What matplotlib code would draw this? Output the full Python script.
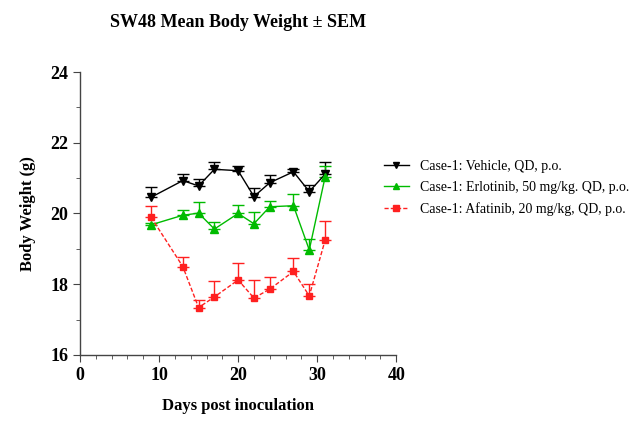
import matplotlib
matplotlib.use("Agg")
import matplotlib.pyplot as plt
from matplotlib.ticker import MultipleLocator
from matplotlib.lines import Line2D

plt.rcParams['font.family'] = ['Liberation Serif', 'DejaVu Serif']

days = [9, 13, 15, 17, 20, 22, 24, 27, 29, 31]
vehicle = [20.46, 20.93, 20.78, 21.25, 21.21, 20.48, 20.87, 21.18, 20.62, 21.11]
vehicle_sem = [0.30, 0.18, 0.19, 0.21, 0.13, 0.23, 0.21, 0.07, 0.19, 0.35]
erlotinib = [19.68, 19.95, 20.01, 19.56, 20.00, 19.71, 20.19, 20.22, 18.97, 21.03]
erlotinib_sem = [0.05, 0.14, 0.32, 0.21, 0.23, 0.32, 0.17, 0.33, 0.32, 0.32]
afatinib = [19.89, 18.50, 17.34, 17.64, 18.12, 17.61, 17.86, 18.36, 17.67, 19.24]
afatinib_sem = [0.32, 0.26, 0.22, 0.46, 0.49, 0.51, 0.35, 0.37, 0.33, 0.56]

labels = ["Case-1: Vehicle, QD, p.o.",
          "Case-1: Erlotinib, 50 mg/kg. QD, p.o.",
          "Case-1: Afatinib, 20 mg/kg, QD, p.o."]

fig = plt.figure(figsize=(6.35, 4.42), dpi=100)
ax = fig.add_axes([0.126, 0.197, 0.498, 0.640])

styles = [('black', 'v', '-', 6), ('#00bb00', '^', '-', 6), ('#ff2020', 's', (0, (3, 1.5)), 5)]
series = [(vehicle, vehicle_sem), (erlotinib, erlotinib_sem), (afatinib, afatinib_sem)]

handles = []
for (y, sem), (color, marker, ls, ms), label in zip(series, styles, labels):
    ax.errorbar(days, y, yerr=[[0]*len(sem), sem], color=color, marker=marker,
                markersize=ms, linestyle=ls, linewidth=1.0, capsize=4,
                elinewidth=1.0, capthick=1.0)
    handles.append(Line2D([], [], color=color, marker=marker, markersize=5,
                          linestyle=ls, linewidth=1.0, label=label))

ax.set_xlim(0, 40)
ax.set_ylim(16, 24)
ax.xaxis.set_major_locator(MultipleLocator(10))
ax.xaxis.set_minor_locator(MultipleLocator(2))
ax.yaxis.set_major_locator(MultipleLocator(2))
ax.yaxis.set_minor_locator(MultipleLocator(1))
for s in ['top', 'right']:
    ax.spines[s].set_visible(False)
for s in ['left', 'bottom']:
    ax.spines[s].set_color('#444444')
    ax.spines[s].set_linewidth(1.0)
ax.tick_params(which='major', length=5, color='#444444', labelsize=13)
ax.tick_params(which='minor', length=3, color='#444444')
for lab in ax.get_xticklabels() + ax.get_yticklabels():
    lab.set_fontweight('bold')

ax.set_xlabel("Days post inoculation", fontsize=12, fontweight='bold', labelpad=10)
ax.set_ylabel("Body Weight (g)", fontsize=12, fontweight='bold', labelpad=10)
fig.text(0.375, 0.95, "SW48 Mean Body Weight \u00b1 SEM", ha='center', va='center',
         fontsize=13, fontweight='bold')

fig.legend(handles=handles, loc='center left', bbox_to_anchor=(0.585, 0.575),
           frameon=False, fontsize=10, handlelength=1.8, handletextpad=0.8,
           labelspacing=0.6)

fig.savefig("out.png", dpi=100)
